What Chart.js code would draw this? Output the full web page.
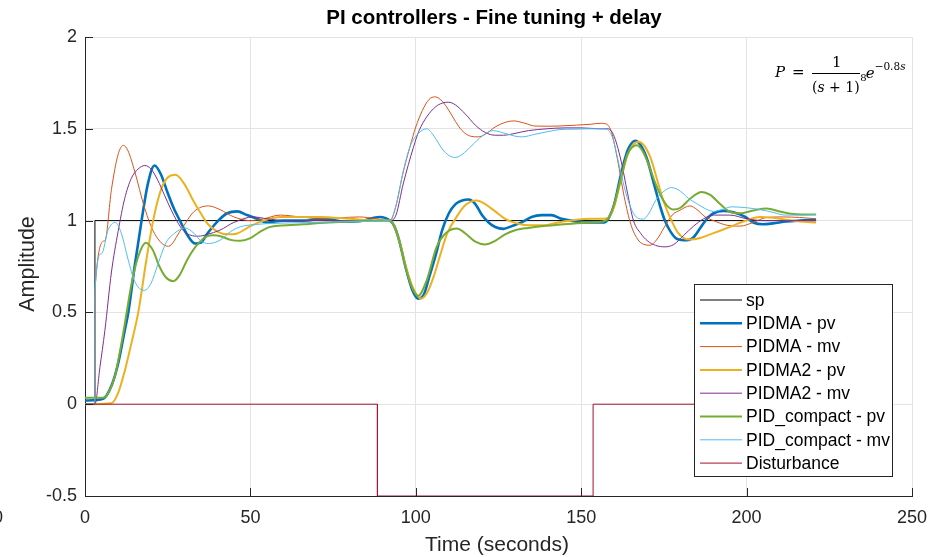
<!DOCTYPE html>
<html>
<head>
<meta charset="utf-8">
<script src="https://cdn.jsdelivr.net/npm/chart.js@4.4.0/dist/chart.umd.min.js"></script>
<style>
  html, body { margin: 0; padding: 0; background: #fff; }
</style>
</head>
<body>
<canvas id="pid_chart" width="946" height="557"></canvas>
<script>
// ---------------------------------------------- data ----
var xTicks = [0, 50, 100, 150, 200, 250];
var yTicks = [-0.5, 0, 0.5, 1, 1.5, 2];

var spT = [0, 3, 3, 221];
var spY = [0, 0, 1, 1];

var distT = [0, 88.4, 88.4, 153.6, 153.6, 221];
var distY = [0, 0, -0.5, -0.5, 0, 0];

// PIDMA
var pidmaPvT = [0, 5.5, 8, 10, 12, 13.1, 15, 17.1, 19, 21, 23, 25, 27, 28.7, 31, 33.3, 35, 37, 40.3, 43, 46, 49, 52, 55, 60, 66, 72, 78, 84, 89, 92.2,
  93.5, 95, 97, 99, 100.8, 102.5, 104, 106, 108, 110, 112, 114, 116, 118, 120, 122, 124, 126.5, 129, 132, 135, 138, 141, 144, 147, 150, 154, 157,
  158.5, 160, 162, 164, 166.3, 168, 170, 172, 174, 175.3, 177, 179, 182, 184, 186, 188, 190, 193, 196, 199.6, 202, 205, 208, 212, 216, 221];
var pidmaPvY = [0.02, 0.03, 0.1, 0.22, 0.4, 0.5, 0.75, 1.0, 1.2, 1.3, 1.25, 1.15, 1.06, 1.0, 0.92, 0.875, 0.88, 0.93, 1.0, 1.04, 1.05, 1.03, 1.01, 0.99, 1.0, 1.0, 1.01, 0.995, 1.0, 1.02, 1.0,
  0.97, 0.89, 0.74, 0.62, 0.575, 0.6, 0.69, 0.81, 0.95, 1.04, 1.09, 1.11, 1.115, 1.09, 1.03, 0.99, 0.965, 0.955, 0.97, 0.99, 1.02, 1.03, 1.03, 1.01, 1.0, 0.99, 0.99, 0.99,
  1.02, 1.09, 1.25, 1.38, 1.435, 1.41, 1.33, 1.2, 1.07, 1.0, 0.94, 0.9, 0.893, 0.91, 0.96, 1.01, 1.04, 1.053, 1.045, 1.02, 0.99, 0.98, 0.985, 0.995, 1.0, 1.004];

var pidmaMvT = [0, 3, 3.02, 6, 8, 10, 11.6, 13, 15, 18, 21, 25.2, 29, 33, 37.3, 40.8, 45, 50, 54, 59, 65, 71, 77, 83, 88, 92.2,
  94, 96, 98.2, 100, 102, 104, 105.8, 108, 110, 112, 114, 116.5, 118.9, 121, 124, 127, 129.5, 133, 136, 139.6, 143, 148.6, 153, 155.7, 157.7,
  159.2, 161, 163, 165, 167, 169, 170.8, 173, 175, 177.5, 179.9, 182.9, 185, 187.5, 190, 194, 198, 202, 206, 211, 216, 221];
var pidmaMvY = [0, 0, 0.62, 0.89, 1.17, 1.36, 1.41, 1.38, 1.27, 1.07, 0.93, 0.86, 0.95, 1.05, 1.08, 1.06, 1.02, 1.0, 1.01, 1.03, 1.02, 1.01, 1.015, 1.02, 1.01, 1.0,
  1.08, 1.25, 1.4, 1.51, 1.6, 1.66, 1.674, 1.65, 1.6, 1.54, 1.49, 1.46, 1.456, 1.47, 1.51, 1.535, 1.543, 1.53, 1.515, 1.514, 1.515, 1.52, 1.525, 1.53, 1.525,
  1.48, 1.33, 1.13, 0.98, 0.9, 0.87, 0.866, 0.9, 0.96, 1.03, 1.057, 1.08, 1.06, 1.02, 1.0, 0.975, 0.97, 0.99, 1.017, 1.02, 1.017, 1.01];

// PIDMA2
var pidma2PvT = [0, 8, 10, 12, 14, 16.1, 18.5, 20.6, 23, 25, 27.4, 30, 33, 35, 37.2, 40, 43, 46, 50, 54, 59, 65, 71, 80, 88, 92.2,
  93.5, 95, 97, 99, 101.5, 103.5, 105.5, 107.5, 109.5, 112.3, 115, 118.4, 121, 124, 127, 130.5, 134, 138.5, 143, 148.6, 153, 156.6,
  158.5, 160, 162, 164, 167.3, 169, 171, 173, 175, 177.3, 179, 181, 183, 186, 189, 192, 195, 199, 204, 208, 212, 216, 221];
var pidma2PvY = [0, 0.005, 0.06, 0.18, 0.33, 0.5, 0.78, 1.0, 1.17, 1.235, 1.25, 1.2, 1.1, 1.04, 0.98, 0.94, 0.925, 0.93, 0.97, 1.0, 1.02, 1.02, 1.02, 1.01, 1.0, 1.0,
  0.97, 0.89, 0.75, 0.64, 0.575, 0.61, 0.7, 0.82, 0.93, 1.02, 1.085, 1.11, 1.09, 1.05, 1.01, 0.985, 0.975, 0.975, 0.99, 1.005, 1.01, 1.01,
  1.02, 1.08, 1.22, 1.36, 1.43, 1.41, 1.34, 1.22, 1.1, 1.0, 0.94, 0.905, 0.897, 0.905, 0.925, 0.945, 0.966, 0.995, 1.02, 1.015, 1.005, 0.995, 0.99];

var pidma2MvT = [0, 3, 4.5, 6, 8, 10, 12, 14, 16, 18.1, 20, 22, 24, 26, 27.7, 30, 32, 34.3, 37, 40.8, 45, 50.9, 55, 61, 70, 80, 92.2,
  94, 96.2, 99.3, 101, 103.3, 106, 108, 109.8, 112, 115, 118, 121, 124, 126.5, 130, 134, 139.6, 145, 150, 155.6, 158,
  159.7, 162, 164, 165.8, 168, 170, 172.5, 175.3, 178, 181, 184, 187, 190, 195, 200, 205, 212, 221];
var pidma2MvY = [0, 0, 0.2, 0.4, 0.72, 0.94, 1.12, 1.23, 1.28, 1.3, 1.28, 1.22, 1.14, 1.06, 1.0, 0.94, 0.92, 0.915, 0.925, 0.948, 0.99, 1.02, 1.01, 1.0, 1.0, 1.0, 1.0,
  1.03, 1.2, 1.4, 1.49, 1.565, 1.62, 1.64, 1.645, 1.63, 1.58, 1.52, 1.48, 1.465, 1.465, 1.475, 1.49, 1.5, 1.505, 1.505, 1.5, 1.5,
  1.47, 1.33, 1.15, 1.0, 0.93, 0.89, 0.865, 0.857, 0.87, 0.92, 0.97, 1.01, 1.03, 1.03, 1.01, 1.0, 1.0, 1.0];

// PID_compact
var compactPvT = [0, 5.5, 7, 9, 11, 12.6, 14, 16, 18.4, 20.5, 22.5, 24.5, 26.7, 28.5, 31, 34, 37, 38.8, 41, 44, 46.9, 50, 53, 56, 61, 66, 71, 80, 92.2,
  93.5, 95, 97, 99, 100.7, 103.3, 106.3, 109.3, 112.4, 115, 118, 120.9, 124, 127, 130.5, 134, 138.5, 143, 148.6, 153, 156.6,
  158.5, 160, 162, 164, 166.8, 168.5, 170.5, 172.5, 174.5, 176, 177.9, 180, 183, 186.4, 189, 192, 195, 198, 202, 206, 210, 213.4, 217, 221];
var compactPvY = [0.035, 0.035, 0.06, 0.15, 0.33, 0.5, 0.65, 0.8, 0.88, 0.84, 0.75, 0.69, 0.67, 0.7, 0.79, 0.87, 0.915, 0.92, 0.915, 0.895, 0.89, 0.905, 0.94, 0.966, 0.975, 0.98, 0.987, 0.995, 1.0,
  0.97, 0.89, 0.74, 0.63, 0.59, 0.675, 0.857, 0.935, 0.957, 0.93, 0.885, 0.87, 0.89, 0.925, 0.95, 0.96, 0.97, 0.978, 0.985, 0.99, 0.995,
  1.02, 1.09, 1.23, 1.36, 1.41, 1.38, 1.3, 1.2, 1.12, 1.08, 1.06, 1.07, 1.12, 1.156, 1.14, 1.09, 1.047, 1.04, 1.055, 1.066, 1.05, 1.037, 1.033, 1.033];

var compactMvT = [0, 3, 3.02, 5, 7, 9.1, 11, 13, 15, 17.9, 20, 22, 24.5, 27, 30.2, 33, 35, 37.3, 40.8, 44, 46.9, 51, 56, 63, 71, 80, 92.2,
  94, 96, 98.2, 100.5, 103.3, 105.5, 108, 110, 111.9, 114, 117, 120, 123.4, 127, 130, 132, 136, 140, 143.6, 148, 152, 156.7, 158,
  159.5, 161.5, 163.5, 165.5, 167, 168.8, 170.5, 172.5, 175, 177.3, 180, 182.5, 184.9, 187.5, 190, 192.5, 195.5, 200, 204, 208, 211.6, 216, 221];
var compactMvY = [0, 0, 0.62, 0.82, 0.95, 0.99, 0.93, 0.79, 0.67, 0.62, 0.66, 0.76, 0.88, 0.93, 0.96, 0.93, 0.89, 0.875, 0.893, 0.94, 0.966, 0.978, 0.984, 0.988, 0.99, 0.995, 1.0,
  1.08, 1.25, 1.4, 1.47, 1.5, 1.46, 1.39, 1.355, 1.344, 1.36, 1.41, 1.46, 1.49, 1.475, 1.46, 1.456, 1.47, 1.485, 1.496, 1.498, 1.5, 1.5, 1.495,
  1.45, 1.3, 1.15, 1.05, 1.015, 1.008, 1.04, 1.11, 1.16, 1.18, 1.16, 1.12, 1.093, 1.065, 1.05, 1.06, 1.075, 1.07, 1.06, 1.045, 1.03, 1.03, 1.033];

// ---------------------------------------------- helpers ----
function pts(t, y) {
  return t.map(function (v, i) { return { x: v, y: y[i] }; });
}

function series(label, t, y, color, width, smooth) {
  return {
    label: label,
    data: pts(t, y),
    borderColor: color,
    backgroundColor: color,
    borderWidth: width,
    pointRadius: 0,
    showLine: true,
    fill: false,
    tension: smooth ? 0.4 : 0,
    cubicInterpolationMode: smooth ? 'monotone' : 'default'
  };
}

var datasets = [
  series('sp', spT, spY, '#000000', 1, false),
  series('PIDMA - pv', pidmaPvT, pidmaPvY, '#0072BD', 2.6, true),
  series('PIDMA - mv', pidmaMvT, pidmaMvY, '#D95319', 1, true),
  series('PIDMA2 - pv', pidma2PvT, pidma2PvY, '#EDB120', 2, true),
  series('PIDMA2 - mv', pidma2MvT, pidma2MvY, '#7E2F8E', 1, true),
  series('PID_compact - pv', compactPvT, compactPvY, '#77AC30', 2, true),
  series('PID_compact - mv', compactMvT, compactMvY, '#4DBEEE', 1, true),
  series('Disturbance', distT, distY, '#A2142F', 1, false)
];
// matlab draws later lines on top
datasets.forEach(function (d, i) { d.order = datasets.length - i; });

var FONT = "'Liberation Sans', Arial, sans-serif";
var SERIF = "'DejaVu Serif', 'Liberation Serif', serif";
var INK = '#262626';

// ---------------------------------------------- decorations -------------------
var decor = {
  id: 'decor',
  afterDraw: function (chart) {
    var ctx = chart.ctx;
    var a = chart.chartArea;
    var xs = chart.scales.x, ys = chart.scales.y;
    ctx.save();

    // tick marks pointing inward
    ctx.strokeStyle = INK;
    ctx.lineWidth = 1;
    ctx.beginPath();
    xTicks.forEach(function (v) {
      var px = Math.round(xs.getPixelForValue(v)) + 0.5;
      ctx.moveTo(px, a.bottom);
      ctx.lineTo(px, a.bottom - 8);
    });
    yTicks.forEach(function (v) {
      var py = Math.round(ys.getPixelForValue(v)) + 0.5;
      ctx.moveTo(a.left, py);
      ctx.lineTo(a.left + 8, py);
    });
    ctx.stroke();

    // title + axis labels
    ctx.fillStyle = '#000';
    ctx.textAlign = 'center';
    ctx.textBaseline = 'middle';
    ctx.font = 'bold 20.5px ' + FONT;
    ctx.fillText('PI controllers - Fine tuning + delay', 494, 18);

    ctx.fillStyle = INK;
    ctx.font = '21px ' + FONT;
    ctx.fillText('Time (seconds)', 497, 545);
    ctx.save();
    ctx.translate(28, 264);
    ctx.rotate(-Math.PI / 2);
    ctx.font = '21.5px ' + FONT;
    ctx.fillText('Amplitude', 0, 0);
    ctx.restore();

    // stray tick label cut by the left edge
    ctx.font = '18px ' + FONT;
    ctx.fillText('0', -2, 518);

    // legend
    var lx = 694.5, ly = 284.5, lw = 198, lh = 192;
    ctx.fillStyle = '#fff';
    ctx.fillRect(lx, ly, lw, lh);
    ctx.strokeStyle = INK;
    ctx.lineWidth = 1;
    ctx.strokeRect(lx, ly, lw, lh);
    ctx.textAlign = 'left';
    ctx.font = '17.5px ' + FONT;
    chart.data.datasets.forEach(function (d, i) {
      var yy = 300 + i * 23.3;
      ctx.strokeStyle = d.borderColor;
      ctx.lineWidth = d.borderWidth;
      ctx.beginPath();
      ctx.moveTo(700, yy);
      ctx.lineTo(742, yy);
      ctx.stroke();
      ctx.fillStyle = '#000';
      ctx.fillText(d.label, 746, yy + 1);
    });

    // transfer function
    ctx.fillStyle = '#000';
    ctx.textBaseline = 'alphabetic';
    ctx.font = 'italic 15px ' + SERIF;
    ctx.fillText('P', 775, 77);
    ctx.font = '15px ' + SERIF;
    ctx.fillText('=', 792, 77);
    ctx.fillText('1', 832, 67);
    ctx.strokeStyle = '#000';
    ctx.lineWidth = 1;
    ctx.beginPath();
    ctx.moveTo(812, 73.5);
    ctx.lineTo(860, 73.5);
    ctx.stroke();
    var cx = 812;
    [['(', '14px '], ['s', 'italic 14px '], [' + 1)', '14px ']].forEach(function (p) {
      ctx.font = p[1] + SERIF;
      ctx.fillText(p[0], cx, 92);
      cx += ctx.measureText(p[0]).width;
    });
    ctx.font = '10px ' + SERIF;
    ctx.fillText('8', cx + 0.5, 81);
    ctx.font = 'italic 15px ' + SERIF;
    ctx.fillText('e', cx + 6, 78);
    ctx.font = '10.5px ' + SERIF;
    ctx.fillText('\u22120.8', cx + 15, 70);
    var w = ctx.measureText('\u22120.8').width;
    ctx.font = 'italic 10.5px ' + SERIF;
    ctx.fillText('s', cx + 15 + w, 70);

    ctx.restore();
  }
};

// ---------------------------------------------- chart ----------------------
var pidChart = new Chart(document.getElementById('pid_chart'), {
  type: 'scatter',
  data: { datasets: datasets },
  options: {
    responsive: false,
    animation: false,
    devicePixelRatio: 1,
    layout: { padding: { left: 0, right: 34, top: 37, bottom: 0 } },
    plugins: {
      legend: { display: false },
      tooltip: { enabled: false },
      title: { display: false }
    },
    scales: {
      x: {
        type: 'linear',
        min: 0,
        max: 250,
        afterBuildTicks: function (s) { s.ticks = xTicks.map(function (v) { return { value: v }; }); },
        afterFit: function (s) { s.height = 61; },
        ticks: { color: INK, font: { family: FONT, size: 18 }, padding: 11, maxRotation: 0 },
        grid: { color: '#e3e3e3', drawTicks: false },
        border: { display: true, color: INK }
      },
      y: {
        min: -0.5,
        max: 2,
        afterBuildTicks: function (s) { s.ticks = yTicks.map(function (v) { return { value: v }; }); },
        afterFit: function (s) { s.width = 85; },
        ticks: {
          color: INK,
          font: { family: FONT, size: 18 },
          padding: 8,
          callback: function (v) { return String(v); }
        },
        grid: { color: '#e3e3e3', drawTicks: false },
        border: { display: true, color: INK }
      }
    }
  },
  plugins: [decor]
});
</script>
</body>
</html>
